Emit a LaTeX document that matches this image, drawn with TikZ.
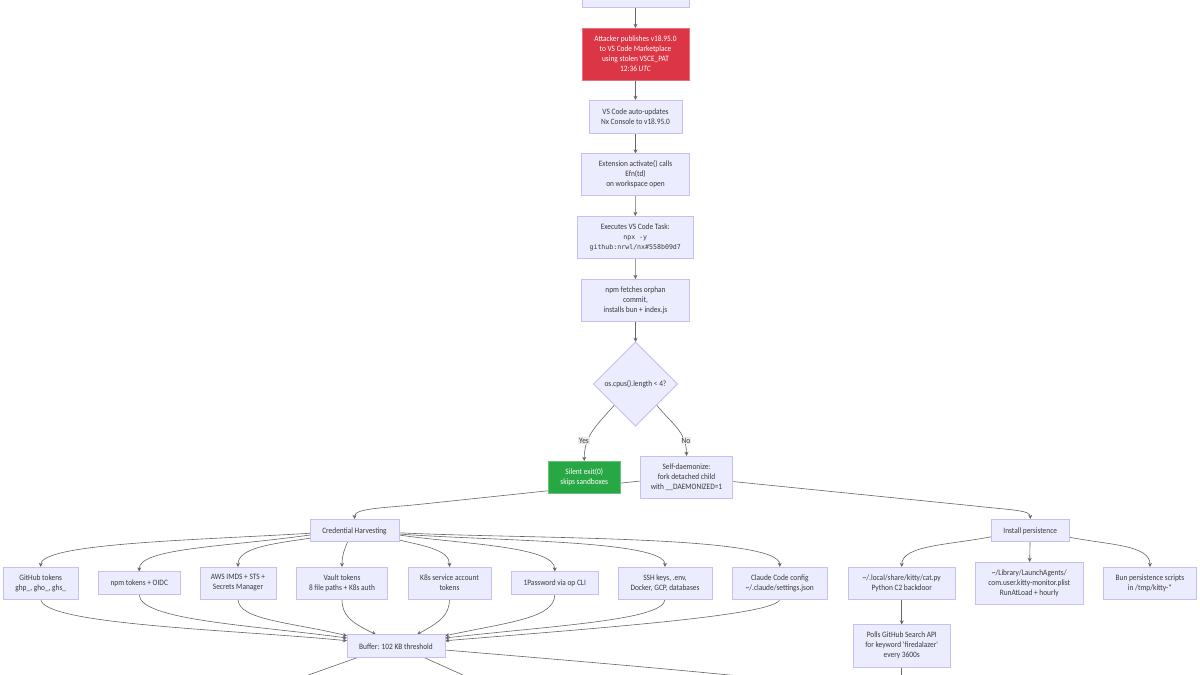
\documentclass[tikz,border=0pt]{standalone}
\usepackage{fontspec}
\setmainfont[FakeStretch=0.9]{Carlito}
\newfontfamily\monof{DejaVu Sans Mono}
\usetikzlibrary{arrows.meta,shapes.geometric,backgrounds}
\definecolor{ndfill}{HTML}{ECECFF}
\definecolor{ndline}{HTML}{C9BDF2}
\definecolor{edgec}{HTML}{666666}
\definecolor{txt}{HTML}{3A3A3A}
\definecolor{redf}{HTML}{DC3545}
\definecolor{greenf}{HTML}{28A745}
\newcommand{\bx}[7][nd]{%
  \pgfmathsetmacro{\cxv}{(#3+#5)/2}\pgfmathsetmacro{\cyv}{(#4+#6)/2}%
  \pgfmathsetmacro{\wv}{#5-#3}\pgfmathsetmacro{\hv}{#6-#4}%
  \node[#1,minimum width=\wv pt,minimum height=\hv pt] (#2) at (\cxv,\cyv) {#7};}
\newcommand{\mono}[1]{{\monof\fontsize{6.6}{10}\selectfont #1}}
\tikzset{
  x=1pt,y=-1pt,
  basefont/.style={font=\fontsize{8.2}{10}\selectfont,text=txt,align=center,inner sep=0pt,outer sep=0pt},
  nd/.style={basefont,rectangle,draw=ndline,line width=0.9pt,fill=ndfill,execute at begin node={\rule{0pt}{7.2pt}}},
  rednd/.style={nd,draw=redf!70!white,fill=redf,text=white},
  greennd/.style={nd,draw=greenf!70!white,fill=greenf,text=white},
  decision/.style={basefont,diamond,aspect=1,draw=ndline,line width=0.9pt,fill=ndfill,minimum width=84pt,minimum height=84pt},
  elabel/.style={basefont,fill=black!8,inner sep=0.8pt},
  link/.style={draw=edgec,line width=0.6pt,-{Stealth[length=4.2pt,width=4pt]}},
  plain/.style={draw=edgec,line width=0.6pt},
}
\begin{document}
\begin{tikzpicture}
\useasboundingbox (0,0) rectangle (1200,675);
\clip (0,0) rectangle (1200,675);
\bx{top}{582}{-30}{689}{7}{}
\bx[rednd]{pub}{582}{28}{689}{80}{Attacker publishes v18.95.0\\to VS Code Marketplace\\using stolen VSCE\_PAT\\12:36 \textit{UTC}}
\bx{upd}{589}{100}{682}{133}{VS Code auto-updates\\Nx Console to v18.95.0}
\bx{act}{581.5}{153.5}{689.5}{195.5}{Extension activate() calls\\Efn(td)\\on workspace open}
\bx{task}{577}{216}{693.5}{258}{Executes VS Code Task:\\\mono{npx -y}\\\mono{github:nrwl/nx\#558b09d7}}
\bx{fetch}{581.5}{279}{689.5}{321}{npm fetches orphan\\commit,\\installs bun + index.js}
\node[decision] (cpu) at (635.5,384) {os.cpus().length < 4?};
\bx[greennd]{exit}{548.5}{461}{620}{493}{Silent exit(0)\\skips sandboxes}
\bx{daemon}{640.5}{456}{732.5}{498}{Self-daemonize:\\fork detached child\\with \_\_DAEMONIZED=1}
\node[elabel] (yes) at (584,440.5) {Yes};
\node[elabel] (no) at (686,440.5) {No};
\bx{cred}{310}{519}{399}{541.5}{Credential Harvesting}
\bx{inst}{991}{519}{1069.5}{541.5}{Install persistence}
\bx{gh}{3.5}{567}{78}{599}{GitHub tokens\\ghp\_, gho\_, ghs\_}
\bx{npmt}{98.5}{571.5}{180}{594.5}{npm tokens + OIDC}
\bx{aws}{200}{567}{276}{599}{AWS IMDS + STS +\\Secrets Manager}
\bx{vault}{296.5}{567}{387.5}{599}{Vault tokens\\8 file paths + K8s auth}
\bx{k8s}{408}{567}{491}{599}{K8s service account\\tokens}
\bx{onep}{511.5}{571.5}{598}{594.5}{1Password via op CLI}
\bx{ssh}{618}{567}{712}{599}{SSH keys, .env,\\Docker, GCP, databases}
\bx{claude}{732}{567}{827.5}{599}{Claude Code config\\\textasciitilde/.claude/settings.json}
\bx{cat}{848}{567}{955.5}{599}{\textasciitilde/.local/share/kitty/cat.py\\Python C2 backdoor}
\bx{launch}{975.5}{562}{1083}{604}{\textasciitilde/Library/LaunchAgents/\\com.user.kitty-monitor.plist\\RunAtLoad + hourly}
\bx{bun}{1103.5}{567}{1196.5}{599}{Bun persistence scripts\\in /tmp/kitty-*}
\bx{poll}{853.5}{624.5}{950}{667}{Polls GitHub Search API\\for keyword \textquotesingle firedalazer\textquotesingle\\every 3600s}
\bx{buf}{347}{634.5}{445}{657}{Buffer: 102 KB threshold}
\coordinate (offL) at (300,678);
\coordinate (offM) at (469.5,678);
\coordinate (offR) at (760,678);
\coordinate (offP) at (901.75,678);
\begin{scope}[on background layer]
\fill[white] (0,0) rectangle (1200,675);
\draw[link] (top) -- (pub);
\draw[link] (pub) -- (upd);
\draw[link] (upd) -- (act);
\draw[link] (act) -- (task);
\draw[link] (task) -- (fetch);
\draw[link] (fetch) -- (cpu);
\draw[link] (cpu.south west) .. controls (597,425) and (584.3,435) .. (exit.north);
\draw[link] (cpu.south east) .. controls (672,424) and (686.5,432) .. (daemon.north);
\draw[link] ([yshift=-4pt]daemon.west) -- (420,504.3) .. controls (385,508) and (354.5,508) .. (cred.north);
\draw[link] ([yshift=-4.5pt]daemon.east) -- (975,506) .. controls (1010,510) and (1030.25,510) .. (inst.north);
\draw[link] ([yshift=-3pt]cred.west) .. controls (200,540) and (41,543) .. (gh.north);
\draw[link] ([yshift=-4.75pt]cred.west) .. controls (225,547) and (139,548) .. (npmt.north);
\draw[link] ([yshift=-8pt]cred.west) .. controls (270,544) and (238,548) .. (aws.north);
\draw[link] ([xshift=-6.8pt]cred.south) .. controls (345,548) and (342,555) .. (vault.north);
\draw[link] ([yshift=-9.75pt]cred.east) .. controls (425,546) and (449.5,550) .. (k8s.north);
\draw[link] ([yshift=-4.75pt]cred.east) .. controls (460,544) and (555,546) .. (onep.north);
\draw[link] ([yshift=-3.75pt]cred.east) .. controls (490,541) and (665,540) .. (ssh.north);
\draw[link] ([yshift=-2.5pt]cred.east) .. controls (520,539) and (780,535) .. (claude.north);
\draw[link] (gh.south) .. controls (41,625) and (240,630) .. ([yshift=5pt]buf.west);
\draw[link] (npmt.south) .. controls (139,620) and (250,625) .. ([yshift=7.75pt]buf.west);
\draw[link] (aws.south) .. controls (238,620) and (290,622) .. ([yshift=10pt]buf.west);
\draw[link] (vault.south) .. controls (342,615) and (350,622) .. ([xshift=-20pt]buf.north);
\draw[link] (k8s.south) .. controls (449.5,615) and (440,622) .. ([xshift=21pt]buf.north);
\draw[link] (onep.south) .. controls (555,618) and (510,622) .. ([yshift=10pt]buf.east);
\draw[link] (ssh.south) .. controls (665,620) and (560,625) .. ([yshift=7.75pt]buf.east);
\draw[link] (claude.south) .. controls (780,615) and (600,628) .. ([yshift=5pt]buf.east);
\draw[plain] ([xshift=-37pt]buf.south) -- (offL);
\draw[plain] ([xshift=27pt]buf.south) -- (offM);
\draw[plain] ([yshift=-4.25pt]buf.east) .. controls (540,658) and (650,667) .. (offR);
\draw[link] ([yshift=-6.5pt]inst.west) .. controls (950,545) and (901.75,545) .. (cat.north);
\draw[link] (inst) -- (launch);
\draw[link] ([yshift=-7pt]inst.east) .. controls (1110,545) and (1150,545) .. (bun.north);
\draw[link] (cat) -- (poll);
\draw[plain] (poll) -- (offP);
\end{scope}
\end{tikzpicture}
\end{document}
